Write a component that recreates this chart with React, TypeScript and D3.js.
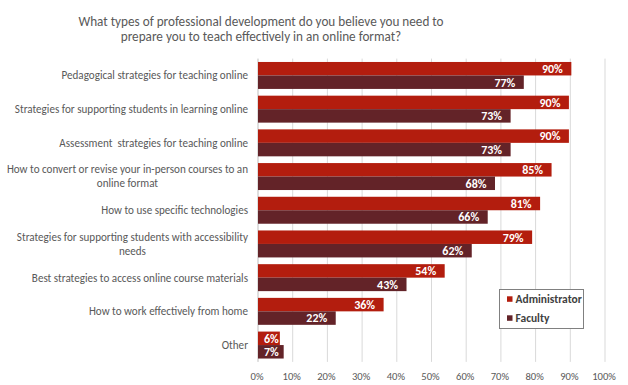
import React, { useEffect, useRef } from "react";
import * as d3 from "d3";

const categories = [
  "Pedagogical strategies for teaching online",
  "Strategies for supporting students in learning online",
  "Assessment  strategies for teaching online",
  "How to convert or revise your in-person courses to an|online format",
  "How to use specific technologies",
  "Strategies for supporting students with accessibility|needs",
  "Best strategies to access online course materials",
  "How to work effectively from home",
  "Other",
];
const adminValues = [90.3, 89.6, 89.6, 84.6, 81.3, 79, 53.8, 36.2, 6.3];
const facultyValues = [76.6, 72.8, 72.8, 68.3, 66.2, 61.6, 42.8, 22.4, 7.4];
const seriesNames = ["Administrator", "Faculty"];
const xTicks = [0, 10, 20, 30, 40, 50, 60, 70, 80, 90, 100];
const titleLines = [
  "What types of professional development do you believe you need to",
  "prepare you to teach effectively in an online format?",
];

const W = 628;
const H = 385;
const COLORS = ["#B31D0E", "#632328"];
const FONT = "Carlito, Lato, sans-serif";
const CAT_SIZE = 11.1;

export default function App() {
  const ref = useRef<SVGSVGElement | null>(null);

  useEffect(() => {
    const svg = d3.select(ref.current);
    svg.selectAll("*").remove();

    const left = 258, right = 605, top = 58.6, bottom = 361.9;
    const x = d3.scaleLinear().domain([0, 100]).range([left, right]);
    const y = d3
      .scaleBand<string>()
      .domain(categories)
      .range([top, bottom])
      .paddingInner(0.2)
      .paddingOuter(0.1);
    const sub = d3.scaleBand<string>().domain(seriesNames).range([0, y.bandwidth()]);

    // title
    svg
      .append("g")
      .selectAll("text")
      .data(titleLines)
      .join("text")
      .attr("x", 261)
      .attr("y", (_d, i) => 25.5 + i * 15.5)
      .attr("text-anchor", "middle")
      .attr("font-family", FONT)
      .attr("font-size", 13.2)
      .attr("fill", "#595959")
      .text((d) => d);

    // gridlines
    svg
      .append("g")
      .selectAll("line")
      .data(xTicks)
      .join("line")
      .attr("x1", (d) => x(d))
      .attr("x2", (d) => x(d))
      .attr("y1", top)
      .attr("y2", bottom)
      .attr("stroke", (d) => (d === 0 ? "#bfbfbf" : "#d9d9d9"))
      .attr("stroke-width", 1);

    // x tick labels
    svg
      .append("g")
      .selectAll("text")
      .data(xTicks)
      .join("text")
      .attr("x", (d) => x(d) - 1)
      .attr("y", 380)
      .attr("text-anchor", "middle")
      .attr("font-family", FONT)
      .attr("font-size", 10.6)
      .attr("fill", "#595959")
      .text((d) => `${d}%`);

    // category labels
    const catG = svg.append("g");
    categories.forEach((c) => {
      const lines = c.split("|");
      const cy = (y(c) as number) + y.bandwidth() / 2;
      if (lines.length === 1) {
        catG
          .append("text")
          .attr("x", 248)
          .attr("y", cy)
          .attr("dy", "0.35em")
          .attr("text-anchor", "end")
          .attr("font-family", FONT)
          .attr("font-size", CAT_SIZE)
          .attr("fill", "#595959")
          .style("white-space", "pre")
          .text(lines[0]);
      } else {
        const t1 = catG
          .append("text")
          .attr("x", 248)
          .attr("y", cy - 7)
          .attr("dy", "0.35em")
          .attr("text-anchor", "end")
          .attr("font-family", FONT)
          .attr("font-size", CAT_SIZE)
          .attr("fill", "#595959")
          .text(lines[0]);
        const w = (t1.node() as SVGTextElement).getComputedTextLength();
        catG
          .append("text")
          .attr("x", 248 - w / 2)
          .attr("y", cy + 7)
          .attr("dy", "0.35em")
          .attr("text-anchor", "middle")
          .attr("font-family", FONT)
          .attr("font-size", CAT_SIZE)
          .attr("fill", "#595959")
          .text(lines[1]);
      }
    });

    // bars
    const series = [adminValues, facultyValues];
    series.forEach((vals, si) => {
      const g = svg.append("g");
      const rows = categories.map((c, i) => ({ c, v: vals[i] }));
      g.selectAll("rect")
        .data(rows)
        .join("rect")
        .attr("x", x(0))
        .attr("y", (d) => (y(d.c) as number) + (sub(seriesNames[si]) as number))
        .attr("width", (d) => x(d.v) - x(0))
        .attr("height", sub.bandwidth())
        .attr("fill", COLORS[si]);

      rows.forEach((d) => {
        const t = g
          .append("text")
          .attr("y", (y(d.c) as number) + (sub(seriesNames[si]) as number) + sub.bandwidth() / 2)
          .attr("dy", "0.36em")
          .attr("text-anchor", "end")
          .attr("font-family", FONT)
          .attr("font-weight", "bold")
          .attr("font-size", 12)
          .attr("fill", "#ffffff")
          .text(`${Math.round(d.v)}%`);
        const tw = (t.node() as SVGTextElement).getComputedTextLength();
        const endX = Math.max(x(d.v) - 8.5, x(0) + 6 + tw);
        t.attr("x", endX);
      });
    });

    // legend
    const lg = svg.append("g");
    lg.append("rect")
      .attr("x", 499.5)
      .attr("y", 289.5)
      .attr("width", 84)
      .attr("height", 39)
      .attr("fill", "#ffffff")
      .attr("stroke", "#808080")
      .attr("stroke-width", 1);
    seriesNames.forEach((s, i) => {
      const ly = 299 + i * 19;
      lg.append("rect")
        .attr("x", 507)
        .attr("y", ly - 2.7)
        .attr("width", 5.5)
        .attr("height", 5.5)
        .attr("fill", COLORS[i]);
      lg.append("text")
        .attr("x", 515.5)
        .attr("y", ly)
        .attr("dy", "0.35em")
        .attr("font-family", FONT)
        .attr("font-weight", "bold")
        .attr("font-size", 11.5)
        .attr("fill", "#404040")
        .text(s);
    });
  }, []);

  return (
    <svg
      ref={ref}
      width={W}
      height={H}
      style={{ position: "absolute", left: 0, top: 0, background: "#ffffff" }}
    />
  );
}
